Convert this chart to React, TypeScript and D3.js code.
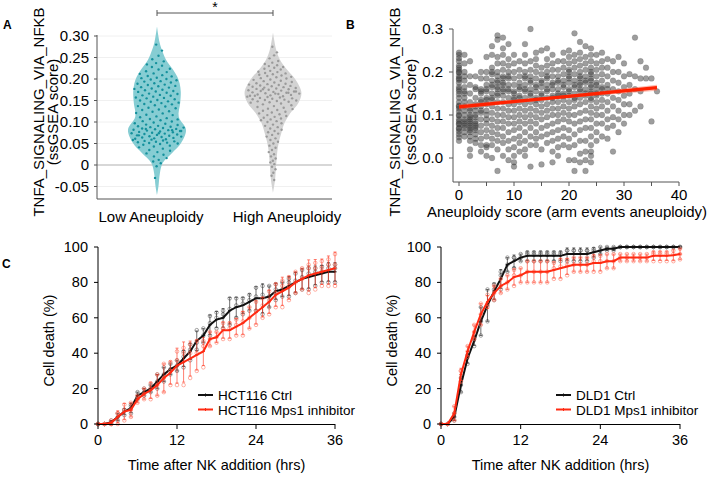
import React, { useEffect } from 'react';
import * as d3 from 'd3';

const FONT = '"Liberation Sans", Arial, Helvetica, sans-serif';

// ---------------- Panel A data ----------------
const violinCategories = ['Low Aneuploidy', 'High Aneuploidy'];
const aTicks = [0.3, 0.25, 0.2, 0.15, 0.1, 0.05, 0, -0.05];
const aTickLabels = ['0.30', '0.25', '0.20', '0.15', '0.10', '0.05', '0', '-0.05'];

const lowScores = [
  0.28, 0.266, 0.254, 0.246, 0.241, 0.237, 0.234,
  0.231, 0.228, 0.224, 0.222, 0.218, 0.216, 0.213, 0.212, 0.209, 0.207, 0.206, 0.203, 0.202, 0.2,
  0.199, 0.197, 0.195, 0.194, 0.192, 0.19, 0.189, 0.187, 0.186, 0.184, 0.183, 0.181, 0.18, 0.178, 0.177, 0.175, 0.174, 0.172, 0.171, 0.17,
  0.168, 0.166, 0.165, 0.163, 0.162, 0.161, 0.159, 0.157, 0.156, 0.155, 0.153, 0.151, 0.15, 0.148, 0.147, 0.145, 0.144, 0.142, 0.141, 0.139,
  0.137, 0.136, 0.133, 0.132, 0.129, 0.128, 0.125, 0.124, 0.121, 0.12, 0.117, 0.116, 0.113, 0.111, 0.109,
  0.107, 0.106, 0.104, 0.102, 0.101, 0.099, 0.097, 0.096, 0.094, 0.093, 0.091, 0.09,
  0.089, 0.088, 0.087, 0.086, 0.085, 0.084, 0.083, 0.082, 0.081, 0.08, 0.079, 0.078, 0.077, 0.076, 0.075, 0.074, 0.073, 0.072, 0.071, 0.07,
  0.069, 0.068, 0.067, 0.066, 0.065, 0.064, 0.063, 0.062, 0.061, 0.06, 0.084, 0.079, 0.074, 0.069, 0.081,
  0.059, 0.058, 0.057, 0.056, 0.055, 0.054, 0.053, 0.052, 0.051, 0.05, 0.049, 0.047, 0.045, 0.043, 0.041,
  0.038, 0.035, 0.033, 0.03, 0.027, 0.024, 0.02, 0.016, 0.012, 0.008, 0.004, -0.003, -0.03,
];

const highScores = [
  0.275, 0.262, 0.255, 0.248,
  0.242, 0.238, 0.235, 0.232, 0.23, 0.228, 0.226, 0.224, 0.222,
  0.219, 0.217, 0.216, 0.214, 0.213, 0.211, 0.21, 0.208, 0.207, 0.205, 0.204, 0.202, 0.201, 0.199, 0.198, 0.196, 0.195, 0.193, 0.192, 0.19,
  0.189, 0.188, 0.187, 0.186, 0.185, 0.184, 0.183, 0.182, 0.181, 0.18, 0.179, 0.178, 0.177, 0.176, 0.175, 0.174, 0.173, 0.172, 0.171, 0.17,
  0.169, 0.168, 0.167, 0.166, 0.165, 0.164, 0.163, 0.162, 0.161, 0.16, 0.176, 0.171, 0.166, 0.161, 0.168, 0.158,
  0.159, 0.157, 0.156, 0.155, 0.154, 0.153, 0.152, 0.151, 0.15, 0.149, 0.148, 0.147, 0.146, 0.145, 0.143, 0.141, 0.139, 0.137, 0.135, 0.133, 0.131, 0.13,
  0.128, 0.126, 0.124, 0.122, 0.12, 0.118, 0.116, 0.114, 0.112, 0.11, 0.108, 0.106, 0.104, 0.102, 0.1,
  0.097, 0.094, 0.091, 0.088, 0.085, 0.082, 0.079, 0.076, 0.073, 0.07, 0.066, 0.062,
  0.058, 0.054, 0.05, 0.045, 0.04, 0.035, 0.03, 0.025, 0.02, 0.015, 0.01, 0.006, 0.002, -0.004, -0.01, -0.018, -0.025, -0.035,
];

// violin outline (score, relative half width)
const lowProfileV = [-0.07, -0.05, -0.019, 0.005, 0.028, 0.051, 0.082, 0.112, 0.145, 0.17, 0.19, 0.205, 0.222, 0.245, 0.262, 0.285, 0.322];
const lowProfileW = [0, 0.05, 0.1, 0.2, 0.52, 0.83, 1.0, 0.75, 0.8, 0.82, 0.78, 0.7, 0.55, 0.31, 0.2, 0.09, 0];
const highProfileV = [-0.065, -0.035, 0.005, 0.042, 0.075, 0.098, 0.121, 0.145, 0.168, 0.198, 0.222, 0.245, 0.268, 0.308];
const highProfileW = [0, 0.07, 0.115, 0.17, 0.29, 0.4, 0.6, 0.88, 0.98, 0.78, 0.48, 0.24, 0.11, 0];

// ---------------- Panel B data ----------------
const bYTicks = [0, 0.1, 0.2, 0.3];
const bYTickLabels = ['0.0', '0.1', '0.2', '0.3'];
const bXTicks = [0, 5, 10, 15, 20, 25, 30, 35, 40];
const bXLabels = [0, 10, 20, 30, 40];
const scatterScores = d3.range(0, 37);
const scatterValues: number[][] = [
  [0.245, 0.24, 0.232, 0.225, 0.215, 0.205, 0.198, 0.19, 0.182, 0.175, 0.165, 0.155, 0.148, 0.14, 0.13, 0.122, 0.115, 0.108, 0.098, 0.09, 0.085, 0.078, 0.07, 0.062, 0.055, 0.048, 0.04, 0.185, 0.21, 0.12, 0.2, 0.16, 0.08, 0.1, 0.068],
  [0.24, 0.22, 0.2, 0.18, 0.165, 0.15, 0.14, 0.13, 0.12, 0.11, 0.1, 0.09, 0.08, 0.07, 0.06, 0.05, 0.155, 0.085, 0.075, 0.19],
  [0.225, 0.19, 0.17, 0.15, 0.13, 0.115, 0.1, 0.09, 0.08, 0.07, 0.06, 0.05, 0.04, 0.02, 0.005, 0.11, 0.075, 0.085, 0.065, 0.095],
  [0.19, 0.165, 0.14, 0.125, 0.11, 0.095, 0.085, 0.075, 0.065, 0.055, 0.045, 0.035, 0.12, 0.16, 0.1, 0.07, 0.08],
  [0.185, 0.16, 0.15, 0.135, 0.12, 0.105, 0.09, 0.075, 0.06, 0.045, 0.03, 0.015, 0.13, 0.2, 0.155, 0.11],
  [0.235, 0.2, 0.185, 0.17, 0.155, 0.14, 0.125, 0.11, 0.1, 0.09, 0.08, 0.065, 0.05, 0.03, 0.025, 0.005, 0.16, 0.135],
  [0.26, 0.24, 0.21, 0.195, 0.18, 0.165, 0.15, 0.135, 0.12, 0.105, 0.09, 0.075, 0.06, 0.045, 0.03, 0.0, 0.2, 0.17, 0.14],
  [0.285, 0.275, 0.235, 0.22, 0.2, 0.19, 0.175, 0.16, 0.145, 0.13, 0.115, 0.1, 0.085, 0.07, 0.055, 0.04, 0.02, -0.03, 0.18, 0.165, 0.15],
  [0.28, 0.255, 0.24, 0.22, 0.205, 0.19, 0.175, 0.16, 0.145, 0.13, 0.115, 0.1, 0.085, 0.07, 0.05, 0.035, 0.005, 0.185, 0.17, 0.155],
  [0.265, 0.23, 0.215, 0.2, 0.185, 0.17, 0.155, 0.14, 0.125, 0.11, 0.095, 0.08, 0.06, 0.04, 0.02, -0.005, 0.19, 0.16],
  [0.24, 0.22, 0.2, 0.185, 0.17, 0.155, 0.14, 0.125, 0.11, 0.095, 0.08, 0.065, 0.045, 0.025, 0.005, -0.01, -0.02, 0.15, 0.135],
  [0.225, 0.205, 0.19, 0.175, 0.16, 0.145, 0.13, 0.115, 0.1, 0.085, 0.07, 0.05, 0.035, 0.015, 0.165, 0.14],
  [0.265, 0.24, 0.22, 0.2, 0.185, 0.17, 0.155, 0.14, 0.125, 0.11, 0.095, 0.08, 0.06, 0.04, 0.02, 0.005, 0.19, 0.16],
  [0.3, 0.225, 0.205, 0.19, 0.175, 0.16, 0.145, 0.13, 0.115, 0.1, 0.085, 0.07, 0.05, 0.03, -0.02, 0.18, 0.15],
  [0.245, 0.23, 0.215, 0.2, 0.185, 0.17, 0.155, 0.14, 0.125, 0.11, 0.095, 0.08, 0.06, 0.045, 0.03, 0.165, 0.135],
  [0.25, 0.21, 0.195, 0.18, 0.165, 0.15, 0.135, 0.12, 0.105, 0.09, 0.07, 0.05, 0.02, -0.015, 0.175, 0.145],
  [0.255, 0.23, 0.215, 0.2, 0.185, 0.17, 0.155, 0.14, 0.125, 0.11, 0.095, 0.075, 0.055, 0.035, 0.19, 0.16],
  [0.24, 0.22, 0.205, 0.19, 0.175, 0.16, 0.145, 0.13, 0.115, 0.1, 0.08, 0.06, 0.04, 0.015, -0.01, 0.17, 0.14],
  [0.225, 0.205, 0.19, 0.175, 0.16, 0.145, 0.13, 0.115, 0.1, 0.085, 0.065, 0.045, 0.025, 0.005, 0.18, 0.15],
  [0.245, 0.225, 0.21, 0.195, 0.18, 0.165, 0.15, 0.135, 0.12, 0.105, 0.09, 0.07, 0.05, 0.03, 0.17, 0.145],
  [0.25, 0.235, 0.22, 0.205, 0.19, 0.175, 0.16, 0.145, 0.13, 0.115, 0.1, 0.085, 0.065, 0.045, 0.025, -0.005, 0.185, 0.155, 0.2],
  [0.29, 0.24, 0.225, 0.21, 0.195, 0.18, 0.165, 0.15, 0.135, 0.12, 0.1, 0.08, 0.055, 0.03, -0.005, -0.03, 0.17, 0.14],
  [0.27, 0.245, 0.23, 0.215, 0.2, 0.185, 0.17, 0.155, 0.14, 0.125, 0.105, 0.085, 0.065, 0.04, 0.01, -0.01, 0.175, 0.16, 0.19],
  [0.26, 0.235, 0.22, 0.205, 0.19, 0.175, 0.16, 0.145, 0.13, 0.11, 0.09, 0.07, 0.04, 0.015, -0.005, -0.03, 0.18, 0.15],
  [0.255, 0.24, 0.225, 0.21, 0.195, 0.18, 0.165, 0.15, 0.135, 0.12, 0.105, 0.09, 0.07, 0.05, 0.03, 0.015, 0.005, -0.01, 0.2, 0.17, 0.185, 0.155, 0.14],
  [0.24, 0.22, 0.205, 0.19, 0.175, 0.16, 0.145, 0.13, 0.115, 0.1, 0.08, 0.06, 0.04, 0.17, 0.15],
  [0.245, 0.225, 0.21, 0.195, 0.18, 0.165, 0.15, 0.135, 0.12, 0.1, 0.08, 0.05, 0.16],
  [0.23, 0.21, 0.19, 0.17, 0.15, 0.13, 0.11, 0.09, 0.07, 0.045, 0.16],
  [0.225, 0.2, 0.18, 0.16, 0.14, 0.12, 0.095, 0.075, 0.015],
  [0.235, 0.2, 0.175, 0.155, 0.135, 0.11, 0.09, 0.06],
  [0.22, 0.19, 0.165, 0.145, 0.125, 0.1, 0.08],
  [0.195, 0.17, 0.15, 0.125, 0.1],
  [0.28, 0.19, 0.16, 0.11],
  [0.225, 0.185, 0.155, 0.12],
  [0.21, 0.185],
  [0.185, 0.085],
  [0.155],
];
// fitted regression line
const regX = [0, 18, 36];
const regY = [0.119, 0.141, 0.1635];
const regHalfCI = [0.006, 0.003, 0.007];

// ---------------- Panel C data ----------------
const timeHours = d3.range(0, 37);
const cXTicks = [0, 12, 24, 36];
const cYTicks = [0, 20, 40, 60, 80, 100];

const hctCtrlReps = [
  [0, 0, 0, 2, 5, 6, 14, 16, 18, 20, 24, 28, 30, 32, 36, 42, 46, 50, 54, 54, 56, 60, 62, 64, 64, 62, 66, 70, 72, 72, 74, 76, 76, 78, 80, 80, 80],
  [0, 0, 2, 4, 8, 10, 16, 18, 20, 24, 28, 31, 33, 38, 42, 46, 50, 57, 60, 62, 65, 67, 68, 70, 72, 73, 72, 76, 76, 80, 81, 83, 85, 86, 86, 88, 88],
  [0, 0, 1, 6, 8, 11, 18, 20, 22, 28, 32, 34, 36, 41, 45, 53, 54, 61, 63, 64, 71, 71, 71, 73, 77, 78, 78, 79, 80, 82, 85, 87, 88, 88, 89, 90, 90],
];
const hctMpsReps = [
  [0, 0, 0, 0, 2, 4, 12, 14, 14, 16, 18, 22, 22, 22, 26, 30, 32, 44, 46, 48, 48, 50, 50, 54, 56, 60, 62, 66, 66, 70, 74, 76, 74, 76, 78, 78, 78],
  [0, 0, 0, 6, 8, 8, 14, 17, 20, 22, 26, 30, 36, 40, 40, 40, 44, 48, 49, 54, 54, 56, 58, 60, 64, 67, 70, 74, 78, 78, 80, 82, 88, 88, 88, 90, 90],
  [0, 0, 2, 6, 11, 12, 16, 20, 23, 28, 34, 35, 41, 43, 45, 47, 47, 52, 52, 57, 57, 59, 63, 66, 69, 71, 75, 79, 81, 83, 86, 88, 90, 91, 92, 93, 96],
];
const dldCtrlReps = [
  [0, 0, 2, 18, 34, 44, 50, 58, 70, 76, 86, 88, 92, 92, 92, 92, 92, 92, 92, 92, 92, 92, 92, 94, 96, 98, 98, 100, 100, 100, 100, 100, 100, 100, 100, 100, 100],
  [0, 0, 4, 22, 38, 48, 58, 67, 76, 84, 90, 94, 94, 96, 96, 96, 96, 96, 96, 98, 98, 98, 98, 98, 98, 99, 99, 100, 100, 100, 100, 100, 100, 100, 100, 100, 100],
  [0, 0, 6, 26, 39, 49, 66, 76, 79, 86, 94, 94, 96, 97, 97, 97, 97, 97, 97, 98, 98, 98, 98, 99, 100, 100, 100, 100, 100, 100, 100, 100, 100, 100, 100, 100, 100],
];
const dldMpsReps = [
  [0, 0, 2, 24, 38, 48, 56, 66, 70, 74, 76, 78, 80, 80, 80, 80, 80, 82, 82, 84, 86, 86, 86, 86, 86, 88, 88, 92, 92, 92, 92, 92, 92, 92, 92, 92, 93],
  [0, 0, 6, 30, 41, 52, 62, 68, 74, 78, 80, 84, 84, 86, 86, 86, 86, 88, 89, 90, 90, 90, 90, 92, 92, 92, 92, 94, 94, 94, 94, 94, 96, 96, 96, 96, 96],
  [0, 0, 10, 30, 44, 56, 68, 73, 78, 82, 84, 87, 88, 92, 92, 92, 92, 91, 93, 93, 94, 94, 94, 95, 95, 96, 96, 96, 96, 96, 96, 96, 97, 97, 97, 98, 99],
];

const BLACK = '#111111';
const RED = '#ff2a12';

function Violin({ cx, yScale, profV, profW, scores, fill, dot }: any) {
  const maxHalf = 29;
  const w = d3.scaleLinear().domain(profV).range(profW).clamp(true);
  const pts = profV.map((v: number, i: number) => [v, profW[i]] as [number, number]);
  const area = d3
    .area<[number, number]>()
    .y((d) => yScale(d[0]))
    .x0((d) => cx - d[1] * maxHalf)
    .x1((d) => cx + d[1] * maxHalf)
    .curve(d3.curveCatmullRom);
  return (
    <g>
      <path d={area(pts) || ''} fill={fill} />
      {scores.map((s: number, i: number) => {
        const u = ((i * 0.618034 + 0.37) % 1) * 2 - 1;
        const off = u * w(s) * maxHalf * 0.97;
        return <circle key={i} cx={cx + off} cy={yScale(s)} r={1.2} fill={dot} />;
      })}
    </g>
  );
}

function TimeCourse({ x, y, series, legend, legendX }: any) {
  const line = d3
    .line<[number, number]>()
    .x((d) => x(d[0]))
    .y((d) => y(d[1]));
  const axisX = x(0);
  return (
    <g fontFamily={FONT}>
      {series.map((s: any, si: number) => {
        const means = timeHours.map((t: number, i: number) => d3.mean(s.reps.map((r: number[]) => r[i])) as number);
        const sds = timeHours.map((t: number, i: number) => d3.deviation(s.reps.map((r: number[]) => r[i])) || 0);
        return (
          <g key={si}>
            {s.reps.map((r: number[], ri: number) =>
              r.map((v: number, i: number) => (
                <circle key={`c${ri}-${i}`} cx={x(timeHours[i])} cy={y(v)} r={1.8} fill="none" stroke={s.pt} strokeWidth={0.6} />
              ))
            )}
            {means.map((m: number, i: number) =>
              sds[i] > 0.3 ? (
                <g key={`e${i}`} stroke={s.col} strokeWidth={0.7} opacity={0.85}>
                  <line x1={x(timeHours[i])} x2={x(timeHours[i])} y1={y(m - sds[i])} y2={y(m + sds[i])} />
                  <line x1={x(timeHours[i]) - 1.5} x2={x(timeHours[i]) + 1.5} y1={y(m - sds[i])} y2={y(m - sds[i])} />
                  <line x1={x(timeHours[i]) - 1.5} x2={x(timeHours[i]) + 1.5} y1={y(m + sds[i])} y2={y(m + sds[i])} />
                </g>
              ) : null
            )}
            <path d={line(timeHours.map((t: number, i: number) => [t, means[i]] as [number, number])) || ''} fill="none" stroke={s.col} strokeWidth={2} />
            {means.map((m: number, i: number) => (
              <line key={`m${i}`} x1={x(timeHours[i]) - 1.5} x2={x(timeHours[i]) + 1.5} y1={y(m)} y2={y(m)} stroke={s.col} strokeWidth={1.2} />
            ))}
          </g>
        );
      })}
      {/* axes */}
      <line x1={axisX} x2={axisX} y1={y(100)} y2={y(0)} stroke="#000" strokeWidth={1} />
      <line x1={axisX} x2={x(36)} y1={y(0) + 0.5} y2={y(0) + 0.5} stroke="#000" strokeWidth={1} />
      {cYTicks.map((t) => (
        <g key={t}>
          <line x1={axisX - 4} x2={axisX} y1={y(t)} y2={y(t)} stroke="#000" />
          <text x={axisX - 10} y={y(t) + 5} textAnchor="end" fontSize={14.5}>{t}</text>
        </g>
      ))}
      {cXTicks.map((t) => (
        <g key={t}>
          <line x1={x(t)} x2={x(t)} y1={y(0)} y2={y(0) + 5} stroke="#000" />
          <text x={x(t)} y={445} textAnchor="middle" fontSize={14.5}>{t}</text>
        </g>
      ))}
      <text x={(x(0) + x(36)) / 2} y={470} textAnchor="middle" fontSize={14.5}>Time after NK addition (hrs)</text>
      <text transform={`translate(${axisX - 44},${y(50) + 5}) rotate(-90)`} textAnchor="middle" fontSize={14.5}>Cell death (%)</text>
      {legend.map((l: string, i: number) => (
        <g key={l}>
          <line x1={legendX} x2={legendX + 15} y1={395 + i * 14.5} y2={395 + i * 14.5} stroke={series[i].col} strokeWidth={2} />
          <line x1={legendX + 7.5} x2={legendX + 7.5} y1={393.5 + i * 14.5} y2={396.5 + i * 14.5} stroke={series[i].col} strokeWidth={1} />
          <text x={legendX + 20} y={400 + i * 14.5} fontSize={13.5}>{l}</text>
        </g>
      ))}
    </g>
  );
}

export default function App() {
  useEffect(() => {
    document.body.style.margin = '0';
  }, []);

  // Panel A scales
  const yA = d3.scaleLinear().domain([0, 0.3]).range([165, 36]);
  const xA = d3.scalePoint().domain(violinCategories).range([157, 273]);
  const xALabel = d3.scalePoint().domain(violinCategories).range([151, 287]);

  // Panel B scales
  const xB = d3.scaleLinear().domain([0, 40]).range([459, 679]);
  const yB = d3.scaleLinear().domain([0, 0.3]).range([158, 29]);
  const regLine = d3.line<number>().x((d) => xB(d)).y((d, i) => yB(regY[i]));
  const regBand = d3
    .area<number>()
    .x((d) => xB(d))
    .y0((d, i) => yB(regY[i] - regHalfCI[i]))
    .y1((d, i) => yB(regY[i] + regHalfCI[i]));

  // Panel C scales
  const yC = d3.scaleLinear().domain([0, 100]).range([424, 247]);
  const xC1 = d3.scaleLinear().domain([0, 36]).range([98, 335]);
  const xC2 = d3.scaleLinear().domain([0, 36]).range([441, 680]);

  return (
    <svg width={708} height={477} style={{ position: 'absolute', left: 0, top: 0, display: 'block', background: '#fff' }} fontFamily={FONT}>
      <rect width={708} height={477} fill="#fff" />
      {/* ---------- Panel A ---------- */}
      <text x={3} y={29} fontSize={12} fontWeight="bold">A</text>
      {aTicks.map((t) => (
        <line key={t} x1={97} x2={332} y1={yA(t)} y2={yA(t)} stroke={t === 0 ? '#cacaca' : '#f0f0f0'} strokeWidth={t === 0 ? 1.6 : 1} />
      ))}
      <Violin cx={xA('Low Aneuploidy')} yScale={yA} profV={lowProfileV} profW={lowProfileW} scores={lowScores} fill="#86cdd3" dot="#14909c" />
      <Violin cx={xA('High Aneuploidy')} yScale={yA} profV={highProfileV} profW={highProfileW} scores={highScores} fill="#d3d3d3" dot="#9a9a9a" />
      <line x1={97} x2={97} y1={35} y2={199} stroke="#555" strokeWidth={1} />
      <line x1={97} x2={332} y1={199} y2={199} stroke="#555" strokeWidth={1} />
      {aTicks.map((t, i) => (
        <g key={t}>
          <line x1={94} x2={97} y1={yA(t)} y2={yA(t)} stroke="#555" />
          <text x={89} y={yA(t) + 5} textAnchor="end" fontSize={15}>{aTickLabels[i]}</text>
        </g>
      ))}
      {violinCategories.map((c) => (
        <text key={c} x={xALabel(c)} y={222} textAnchor="middle" fontSize={15}>{c}</text>
      ))}
      <text transform="translate(44,112) rotate(-90)" textAnchor="middle" fontSize={15}>TNFA_SIGNALING_VIA_NFKB</text>
      <text transform="translate(58,112) rotate(-90)" textAnchor="middle" fontSize={15}>(ssGSEA score)</text>
      <g stroke="#555" strokeWidth={1}>
        <line x1={xA('Low Aneuploidy')} x2={xA('High Aneuploidy')} y1={13} y2={13} />
        <line x1={xA('Low Aneuploidy')} x2={xA('Low Aneuploidy')} y1={10} y2={16} />
        <line x1={xA('High Aneuploidy')} x2={xA('High Aneuploidy')} y1={10} y2={16} />
      </g>
      <text x={215} y={12} textAnchor="middle" fontSize={14}>*</text>

      {/* ---------- Panel B ---------- */}
      <text x={346} y={29} fontSize={12} fontWeight="bold">B</text>
      {scatterScores.map((s, si) =>
        scatterValues[si].map((v, vi) => (
          <circle key={`${si}-${vi}`} cx={xB(s)} cy={yB(v)} r={2.9} fill="#3c3c3c" fillOpacity={0.5} stroke="#222" strokeOpacity={0.25} strokeWidth={0.5} />
        ))
      )}
      <path d={regBand(regX) || ''} fill="#ff6a50" fillOpacity={0.45} />
      <path d={regLine(regX) || ''} fill="none" stroke="#ff2200" strokeWidth={3.2} />
      <line x1={453} x2={453} y1={yB(0.3)} y2={182} stroke="#555" />
      <line x1={453} x2={679} y1={182} y2={182} stroke="#555" />
      {bYTicks.map((t, i) => (
        <g key={t}>
          <line x1={449} x2={453} y1={yB(t)} y2={yB(t)} stroke="#555" />
          <text x={443} y={yB(t) + 5} textAnchor="end" fontSize={15}>{bYTickLabels[i]}</text>
        </g>
      ))}
      {bXTicks.map((t) => (
        <line key={t} x1={xB(t)} x2={xB(t)} y1={182} y2={186} stroke="#555" />
      ))}
      {bXLabels.map((t) => (
        <text key={t} x={xB(t)} y={200} textAnchor="middle" fontSize={15}>{t}</text>
      ))}
      <text x={567} y={217} textAnchor="middle" fontSize={15}>Aneuploidy score (arm events aneuploidy)</text>
      <text transform="translate(400,112) rotate(-90)" textAnchor="middle" fontSize={15}>TNFA_SIGNALING_VIA_NFKB</text>
      <text transform="translate(416,112) rotate(-90)" textAnchor="middle" fontSize={15}>(ssGSEA score)</text>

      {/* ---------- Panel C ---------- */}
      <text x={2} y={268} fontSize={12} fontWeight="bold">C</text>
      <TimeCourse
        x={xC1}
        y={yC}
        legendX={198}
        legend={['HCT116 Ctrl', 'HCT116 Mps1 inhibitor']}
        series={[
          { reps: hctCtrlReps, col: BLACK, pt: '#666666' },
          { reps: hctMpsReps, col: RED, pt: '#ff7a66' },
        ]}
      />
      <TimeCourse
        x={xC2}
        y={yC}
        legendX={556}
        legend={['DLD1 Ctrl', 'DLD1 Mps1 inhibitor']}
        series={[
          { reps: dldCtrlReps, col: BLACK, pt: '#666666' },
          { reps: dldMpsReps, col: RED, pt: '#ff7a66' },
        ]}
      />
    </svg>
  );
}
